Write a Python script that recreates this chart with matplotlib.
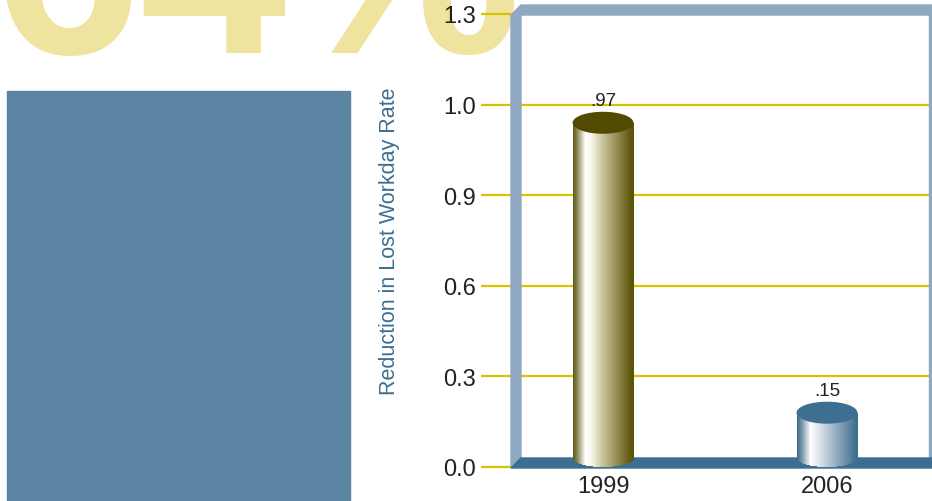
import numpy as np
import matplotlib
matplotlib.use("Agg")
import matplotlib.pyplot as plt
from matplotlib.colors import LinearSegmentedColormap
from matplotlib.patches import Polygon, Rectangle, Ellipse
from matplotlib.transforms import Affine2D, IdentityTransform

plt.rcParams['font.family'] = ['Liberation Sans', 'DejaVu Sans']

# podaci
godine = ['1999', '2006']
vrijednosti = [0.97, 0.15]
y_oznake = [0.0, 0.3, 0.6, 0.9, 1.0, 1.3]
naslov_postotak = '64%'
y_naslov = 'Reduction in Lost Workday Rate'

W, H = 932, 502
fig = plt.figure(figsize=(W / 100, H / 100), dpi=100)
fig.patch.set_facecolor('white')

# pikselne koordinate (y od vrha)
px = Affine2D().scale(1, -1).translate(0, H)

# veliki tekst i pravokutnik lijevo
fig.text(-7 / W, (H - 53) / H, naslov_postotak, fontsize=190, fontweight='bold',
         color='#efe3a0', ha='left', va='baseline', zorder=-2)
fig.patches.append(Rectangle((7, 92), 343, 420, transform=px, color='#5b83a2',
                             zorder=-1))

# os (y skala s nejednakim razmacima oznaka)
ax = fig.add_axes([511 / W, 34 / H, 421 / W, 453 / H])
idx = np.arange(len(y_oznake))


def naprijed(y):
    return np.interp(y, y_oznake, idx)


def natrag(s):
    return np.interp(s, idx, y_oznake)


ax.set_yscale('function', functions=(naprijed, natrag))
ax.set_ylim(0, 1.3)
ax.set_xlim(-0.411, 1.469)
ax.set_yticks(y_oznake)
ax.set_yticklabels([f'{v:.1f}' for v in y_oznake])
ax.set_xticks(range(len(godine)))
ax.set_xticklabels(godine)
for s in ax.spines.values():
    s.set_visible(False)
ax.tick_params(axis='y', length=21.6, width=1.6, color='#d8c300', pad=3.5,
               labelsize=17, labelcolor='#222222')
ax.tick_params(axis='x', length=0, pad=6, labelsize=17, labelcolor='#222222')
ax.set_axisbelow(True)
ax.grid(axis='y', color='#d8c300', linewidth=1.6)
ax.set_ylabel(y_naslov, fontsize=15.5, color='#3d6f90', labelpad=31)

# zid i pod
ax.add_patch(Polygon([(511, 469), (511, 16), (521, 6), (932, 6), (932, 16),
                      (521, 16), (521, 459)], closed=True, transform=px,
                     color='#8ea9c1', clip_on=False, zorder=1))
ax.add_patch(Rectangle((929, 10), 3, 452, transform=px, color='#8ea9c1',
                       clip_on=False, zorder=1))
ax.add_patch(Polygon([(511, 469), (521, 459), (932, 459), (932, 469)],
                     closed=True, transform=px, color='#3b6e8f',
                     clip_on=False, zorder=1.2))

# valjci
mape = [
    LinearSegmentedColormap.from_list('maslina', [
        (0.0, '#635c1c'), (0.06, '#8a8450'), (0.2, '#ffffff'), (0.3, '#f8f6ea'),
        (0.5, '#c8c29a'), (0.75, '#918a50'), (0.9, '#6e6620'), (1.0, '#5a5206')]),
    LinearSegmentedColormap.from_list('plava', [
        (0.0, '#3f6d8d'), (0.08, '#7b9ab0'), (0.22, '#ffffff'), (0.45, '#c9d5df'),
        (0.75, '#7f9bb3'), (1.0, '#3f6d8d')]),
]
vrh_boje = ['#524a00', '#3d6f90']
sirina = 0.272
pomak = 9
N = 60
for i, (god, v) in enumerate(zip(godine, vrijednosti)):
    lijevo = i - sirina / 2
    x_dij = lijevo + np.arange(N) * sirina / N
    boje = mape[i](np.linspace(0, 1, N))
    trake = ax.bar(x_dij, [v] * N, width=sirina / N * 1.08, align='edge',
                   color=boje, linewidth=0, zorder=2)
    for r in trake:
        r.set_transform(ax.transData + Affine2D().translate(0, pomak))
        r.set_clip_on(False)
    # donji rub (polovica elipse)
    x0, y0 = ax.transData.transform((lijevo, 0))
    x1, _ = ax.transData.transform((lijevo + sirina, 0))
    y0 = y0 + pomak
    sw = (x1 - x0) / N
    for k in range(N):
        xc = x0 + (k + 0.5) * sw
        t = (xc - (x0 + x1) / 2) / ((x1 - x0) / 2)
        dub = 9 * np.sqrt(max(0.0, 1 - t * t))
        ax.add_patch(Rectangle((x0 + k * sw, y0 - dub), sw * 1.1, dub + 1,
                               transform=IdentityTransform(), color=boje[k],
                               linewidth=0, clip_on=False, zorder=2))
    # gornja elipsa
    cx, cy = ax.transData.transform((i, v))
    ax.add_patch(Ellipse((cx, cy + pomak), x1 - x0, 22,
                         transform=IdentityTransform(), color=vrh_boje[i],
                         linewidth=0, clip_on=False, zorder=3))
    ax.annotate(f'{v:.2f}'.lstrip('0'), (i, v), xytext=(0, 19.5),
                textcoords='offset points', ha='center', va='baseline',
                fontsize=13.5, color='#222222', zorder=4)

fig.savefig('out.png', dpi=100)
